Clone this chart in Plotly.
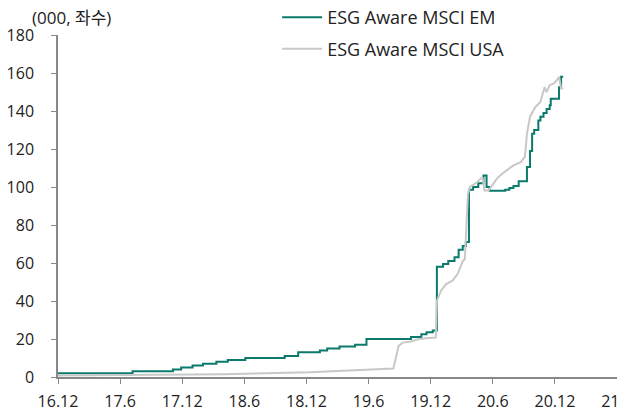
import plotly.graph_objects as go

# months since Dec 2016
tick_vals = [0, 6, 12, 18, 24, 30, 36, 42, 48, 54]
tick_text = ["16.12", "17.6", "17.12", "18.6", "18.12", "19.6", "19.12", "20.6", "20.12", "21.6"]

em_x = [0, 7.2, 11.1, 11.9, 13.0, 14.0, 15.3, 16.4, 18.1, 21.9, 23.2, 25.3, 26.0, 27.2, 28.7, 29.8,
        34.1, 35.1, 35.6, 36.2, 36.6, 37.2, 37.7, 38.3, 38.7, 39.1, 39.4, 39.7, 40.1, 40.6, 41.1,
        41.4, 41.7, 43.2, 43.6, 44.0, 44.5, 45.2, 45.3, 45.6, 45.8, 46.0, 46.4, 46.6, 46.9, 47.2,
        47.5, 47.6, 48.2, 48.4, 48.6, 48.8]
em_y = [2, 3, 4, 5, 6, 7, 8, 9, 10, 11, 13, 14, 15, 16, 17, 20,
        21, 22.5, 23.5, 24.5, 58, 59.5, 61, 63, 67, 69, 71, 98.5, 100, 102, 106,
        100, 98, 98.5, 99.5, 100.5, 103, 103, 110.5, 119, 128, 130, 135, 137, 139, 141,
        143, 146.5, 146.5, 152.5, 158, 158]

usa_x = [0, 16.0, 24.3, 28.5, 31.7, 32.4, 32.9, 33.3, 34.1, 34.8, 35.5, 36.5, 36.6, 37.0, 37.5,
         38.1, 38.6, 39.1, 39.3, 39.6, 39.8, 40.5, 41.0, 41.2, 41.6, 42.1, 42.4, 42.9, 43.4, 44.0,
         44.7, 45.1, 45.3, 45.6, 46.1, 46.6, 47.0, 47.2, 47.5, 47.9, 48.2, 48.4, 48.6, 48.8]
usa_y = [0.8, 1.5, 2.5, 3.5, 4.5, 4.5, 16.4, 18.1, 18.7, 19.9, 20.4, 20.8, 40, 45.4, 48.9,
         50.7, 54.2, 61, 62, 96.4, 100, 102.6, 105.2, 98.2, 98.2, 101.7, 104.4, 107, 108.8, 111.4,
         113.1, 115.8, 128, 137, 142, 144.8, 152.5, 150, 153.6, 154.5, 156.3, 158, 151.9, 152]

FONT = "Open Sans, Noto Sans CJK KR"

fig = go.Figure()
fig.add_trace(go.Scatter(x=em_x, y=em_y, mode="lines", name="ESG Aware MSCI EM",
                         line=dict(color="#0B7A6C", width=2, shape="hv"), legendgroup="a"))
fig.add_trace(go.Scatter(x=usa_x, y=usa_y, mode="lines", name="ESG Aware MSCI USA",
                         line=dict(color="#C8C8C8", width=2), legendgroup="b"))

fig.update_layout(
    width=617, height=412,
    margin=dict(l=58, r=0, t=35, b=35, autoexpand=False),
    plot_bgcolor="white", paper_bgcolor="white",
    font=dict(family=FONT, size=16, color="#222"),
    showlegend=True,
    legend=dict(x=0.392, y=1.105, xanchor="left", yanchor="top", bgcolor="rgba(0,0,0,0)",
                font=dict(size=18, color="#222"), tracegroupgap=5, itemwidth=40),
    xaxis=dict(range=[0, 54], tickvals=tick_vals, ticktext=tick_text, showgrid=False,
               zeroline=False, showline=True, linecolor="#888", linewidth=1.5,
               ticks="outside", ticklen=5, tickcolor="#888", tickfont=dict(size=16),
               ticklabelstandoff=4, ticklabeloverflow="allow", automargin=False),
    yaxis=dict(range=[0, 180], dtick=20, showgrid=False, zeroline=False, showline=True,
               linecolor="#888", linewidth=1.5, ticks="outside", ticklen=5, tickcolor="#888",
               tickfont=dict(size=16), ticklabelstandoff=14, automargin=False),
    annotations=[dict(text="(000, 좌수)", xref="paper", yref="paper", x=-0.05, y=1.05,
                      xanchor="left", yanchor="middle", showarrow=False,
                      font=dict(size=17, family=FONT, color="#222"))],
)

fig.write_html("out.html", config={"displayModeBar": False},
               post_script="document.body.style.margin='0';")
